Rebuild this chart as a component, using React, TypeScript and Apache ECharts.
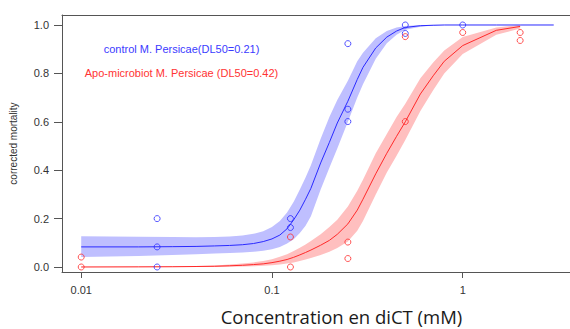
import React, { useEffect, useRef } from "react";
import * as echarts from "echarts";

// Concentrations (mM) at which the fitted dose-response curves are tabulated
const CURVE_X = [0.01, 0.02, 0.03, 0.04, 0.05, 0.06, 0.07, 0.08, 0.09, 0.1, 0.11, 0.12, 0.13, 0.14, 0.15, 0.16, 0.18, 0.2, 0.22, 0.25, 0.28, 0.3, 0.35, 0.4, 0.45, 0.5, 0.6, 0.7, 0.8, 1, 1.5, 2, 3];

// control M. Persicae: fitted curve and confidence band
const CONTROL_FIT = [0.083, 0.083, 0.084, 0.085, 0.087, 0.089, 0.092, 0.097, 0.105, 0.116, 0.132, 0.158, 0.195, 0.235, 0.28, 0.325, 0.43, 0.515, 0.595, 0.685, 0.775, 0.825, 0.905, 0.95, 0.975, 0.99, 0.997, 0.999, 1.0, 1.0, 1.0, 1.0, 1.0];
const CONTROL_BAND_X = [0.01, 0.02, 0.03, 0.04, 0.05, 0.06, 0.07, 0.08, 0.09, 0.1, 0.11, 0.12, 0.13, 0.14, 0.15, 0.16, 0.18, 0.2, 0.22, 0.25, 0.28, 0.3, 0.35, 0.4, 0.45, 0.5, 0.6, 0.7, 0.8];
const CONTROL_LOW = [0.041, 0.045, 0.05, 0.053, 0.056, 0.058, 0.06, 0.063, 0.067, 0.073, 0.083, 0.097, 0.115, 0.14, 0.17, 0.21, 0.32, 0.41, 0.49, 0.6, 0.7, 0.755, 0.86, 0.925, 0.96, 0.98, 0.993, 0.998, 1.0];
const CONTROL_HIGH = [0.127, 0.125, 0.124, 0.123, 0.124, 0.126, 0.13, 0.137, 0.148, 0.165, 0.19, 0.225, 0.27, 0.32, 0.37, 0.42, 0.53, 0.62, 0.69, 0.77, 0.85, 0.885, 0.945, 0.975, 0.99, 0.996, 1.0, 1.0, 1.0];

// Apo-microbiot M. Persicae: fitted curve and confidence band
const APO_X = [0.01, 0.02, 0.03, 0.04, 0.05, 0.06, 0.07, 0.08, 0.09, 0.1, 0.11, 0.12, 0.13, 0.14, 0.15, 0.16, 0.18, 0.2, 0.22, 0.25, 0.28, 0.3, 0.35, 0.4, 0.45, 0.5, 0.6, 0.7, 0.8, 1, 1.5, 2];
const APO_FIT = [0.0, 0.0005, 0.001, 0.002, 0.003, 0.005, 0.007, 0.01, 0.013, 0.018, 0.024, 0.031, 0.04, 0.05, 0.06, 0.07, 0.09, 0.11, 0.135, 0.178, 0.235, 0.28, 0.385, 0.47, 0.54, 0.6, 0.715, 0.79, 0.85, 0.915, 0.978, 0.994];
const APO_LOW = [0, 0, 0, 0, 0, 0.001, 0.002, 0.003, 0.005, 0.007, 0.01, 0.014, 0.019, 0.025, 0.031, 0.037, 0.05, 0.063, 0.078, 0.105, 0.15, 0.19, 0.3, 0.39, 0.46, 0.525, 0.645, 0.73, 0.8, 0.88, 0.96, 0.985];
const APO_HIGH = [0.001, 0.002, 0.003, 0.004, 0.006, 0.01, 0.014, 0.019, 0.025, 0.032, 0.042, 0.053, 0.066, 0.08, 0.093, 0.107, 0.135, 0.165, 0.195, 0.25, 0.315, 0.36, 0.47, 0.55, 0.62, 0.675, 0.78, 0.845, 0.895, 0.95, 0.99, 1.0];

// Observed corrected mortality
const CONTROL_OBS_X = [0.025, 0.025, 0.025, 0.125, 0.125, 0.25, 0.25, 0.25, 0.5, 0.5, 1];
const CONTROL_OBS_Y = [0.2, 0.083, 0.0, 0.2, 0.163, 0.923, 0.652, 0.601, 1.0, 0.965, 1.0];
const APO_OBS_X = [0.01, 0.01, 0.125, 0.125, 0.25, 0.25, 0.5, 0.5, 1, 2, 2];
const APO_OBS_Y = [0.041, 0.0, 0.124, 0.0, 0.103, 0.035, 0.952, 0.601, 0.969, 0.969, 0.936];

// Axis ticks
const X_TICKS = [0.01, 0.1, 1];
const X_TICK_LABELS = ["0.01", "0.1", "1"];
const Y_TICKS = [0, 0.2, 0.4, 0.6, 0.8, 1.0];

const LEGEND = [
  "control M. Persicae(DL50=0.21)",
  "Apo-microbiot M. Persicae (DL50=0.42)",
];
const X_TITLE = "Concentration en diCT (mM)";
const Y_TITLE = "corrected mortality";

const BLUE = "#2a2aff";
const RED = "#ff2a2a";
const BLUE_BAND = "#bfbfff";
const RED_BAND = "#ffbfbf";

const lg = (v: number) => Math.log10(v);

function bandSeries(xs: number[], lo: number[], hi: number[], color: string) {
  return {
    type: "custom",
    silent: true,
    z: 1,
    data: [[lg(xs[0]), lo[0]]],
    renderItem: (_params: any, api: any) => {
      const pts: number[][] = [];
      for (let i = 0; i < xs.length; i++) pts.push(api.coord([lg(xs[i]), hi[i]]));
      for (let i = xs.length - 1; i >= 0; i--) pts.push(api.coord([lg(xs[i]), lo[i]]));
      return {
        type: "polygon",
        shape: { points: pts },
        style: { fill: color, stroke: "none" },
      };
    },
  };
}

function lineSeries(xs: number[], ys: number[], color: string) {
  return {
    type: "line",
    z: 2,
    showSymbol: false,
    silent: true,
    data: xs.map((x, i) => [lg(x), ys[i]]),
    lineStyle: { color, width: 1 },
  };
}

function pointSeries(xs: number[], ys: number[], color: string) {
  return {
    type: "scatter",
    z: 3,
    symbol: "circle",
    symbolSize: 6,
    silent: true,
    data: xs.map((x, i) => [lg(x), ys[i]]),
    itemStyle: { color: "rgba(0,0,0,0)", borderColor: color, borderWidth: 1 },
  };
}

export default function App() {
  const ref = useRef<HTMLDivElement>(null);

  useEffect(() => {
    if (!ref.current) return;
    const chart = echarts.init(ref.current, null, { renderer: "svg" });
    const xMin = lg(0.00793);
    const xMax = lg(3.651);
    const axisColor = "#555";
    const font = "'Liberation Sans', Arial, sans-serif";

    chart.setOption({
      animation: false,
      backgroundColor: "#fff",
      grid: { left: 60, right: 0, top: 15, bottom: 57, containLabel: false },
      xAxis: [
        {
          type: "value",
          min: xMin,
          max: xMax,
          splitLine: { show: false },
          axisLine: { show: true, onZero: false, lineStyle: { color: axisColor, width: 1 } },
          axisTick: {
            show: true,
            length: 6,
            customValues: X_TICKS.map(lg),
            lineStyle: { color: axisColor },
          },
          axisLabel: {
            customValues: X_TICKS.map(lg),
            margin: 12,
            fontSize: 11,
            fontFamily: font,
            color: "#333",
            formatter: (v: number) => {
              const i = X_TICKS.findIndex((t) => Math.abs(lg(t) - v) < 1e-6);
              return i >= 0 ? X_TICK_LABELS[i] : "";
            },
          },
        },
        {
          type: "value",
          position: "top",
          min: xMin,
          max: xMax,
          splitLine: { show: false },
          axisLine: { show: true, onZero: false, lineStyle: { color: axisColor, width: 1 } },
          axisTick: { show: false },
          axisLabel: { show: false },
        },
      ],
      yAxis: {
        type: "value",
        min: -0.0207,
        max: 1.0413,
        name: Y_TITLE,
        nameLocation: "middle",
        nameGap: 44,
        nameTextStyle: { fontSize: 10, fontFamily: font, color: "#333" },
        splitLine: { show: false },
        axisLine: { show: true, onZero: false, lineStyle: { color: axisColor, width: 1 } },
        axisTick: { show: true, length: 8, customValues: Y_TICKS, lineStyle: { color: axisColor } },
        axisLabel: {
          customValues: Y_TICKS,
          margin: 13,
          fontSize: 11,
          fontFamily: font,
          color: "#333",
          formatter: (v: number) => v.toFixed(1),
        },
      },
      graphic: [
        {
          type: "text",
          x: 181.5,
          y: 49,
          style: {
            text: LEGEND[0],
            fill: "#3b3bff",
            font: `11px ${font}`,
            textAlign: "center",
            textVerticalAlign: "middle",
          },
        },
        {
          type: "text",
          x: 181.5,
          y: 72.7,
          style: {
            text: LEGEND[1],
            fill: "#ff3333",
            font: `11px ${font}`,
            textAlign: "center",
            textVerticalAlign: "middle",
          },
        },
        {
          type: "text",
          x: 341.5,
          y: 316,
          style: {
            text: X_TITLE,
            fill: "#1a1a1a",
            font: `18.5px 'Open Sans', sans-serif`,
            lineHeight: 20,
            textAlign: "center",
            textVerticalAlign: "middle",
          },
        },
      ],
      series: [
        bandSeries(CONTROL_BAND_X, CONTROL_LOW, CONTROL_HIGH, BLUE_BAND),
        bandSeries(APO_X, APO_LOW, APO_HIGH, RED_BAND),
        lineSeries(CURVE_X, CONTROL_FIT, BLUE),
        lineSeries(APO_X, APO_FIT, RED),
        pointSeries(CONTROL_OBS_X, CONTROL_OBS_Y, BLUE),
        pointSeries(APO_OBS_X, APO_OBS_Y, RED),
      ],
    });

    return () => chart.dispose();
  }, []);

  return <div ref={ref} style={{ width: 570, height: 329, position: "absolute", left: 0, top: 0 }} />;
}
